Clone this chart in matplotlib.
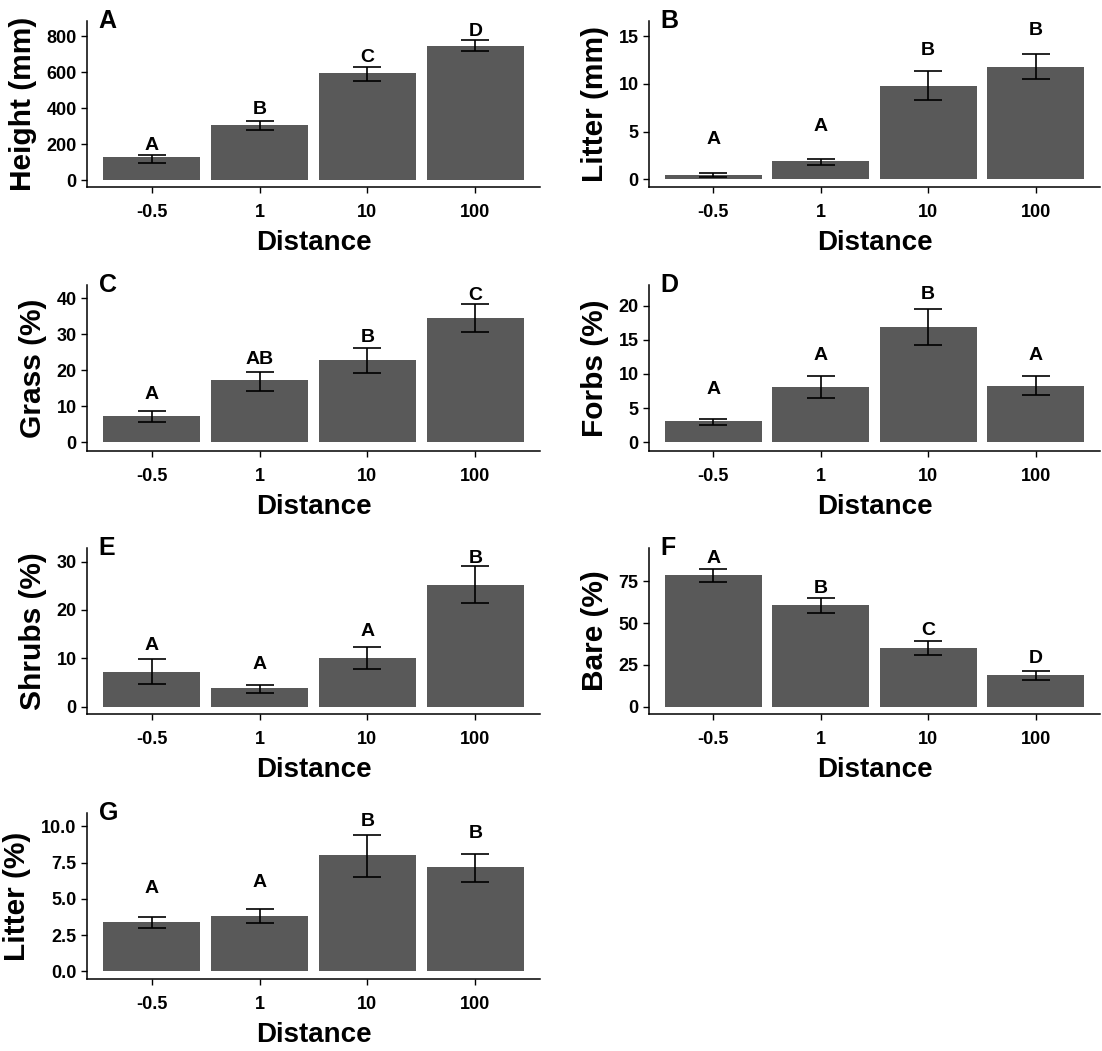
import matplotlib
matplotlib.use("Agg")
import matplotlib.pyplot as plt

plt.rcParams['font.family'] = ['Liberation Sans Narrow', 'Liberation Sans', 'DejaVu Sans']

distance = ['-0.5', '1', '10', '100']

# one entry per panel: means, lower/upper error ends, letters and their heights
panels = ['A', 'B', 'C', 'D', 'E', 'F', 'G']
ylabels = ['Height (mm)', 'Litter (mm)', 'Grass (%)', 'Forbs (%)',
           'Shrubs (%)', 'Bare (%)', 'Litter (%)']

means = [
    [127, 308, 599, 746],
    [0.5, 1.92, 9.82, 11.82],
    [7.2, 17.3, 22.9, 34.4],
    [3.05, 8.04, 16.85, 8.23],
    [7.2, 3.8, 10.0, 25.2],
    [78.6, 60.6, 35.0, 19.2],
    [3.39, 3.82, 8.0, 7.17],
]
err_lo = [
    [97, 280, 554, 718],
    [0.25, 1.5, 8.36, 10.52],
    [5.6, 14.2, 19.1, 30.55],
    [2.57, 6.44, 14.19, 6.88],
    [4.69, 2.83, 7.72, 21.45],
    [74.6, 56.0, 31.2, 16.0],
    [2.97, 3.36, 6.52, 6.13],
]
err_hi = [
    [140, 330, 629, 778],
    [0.66, 2.17, 11.33, 13.18],
    [8.6, 19.5, 26.05, 38.35],
    [3.44, 9.69, 19.56, 9.69],
    [9.86, 4.41, 12.34, 29.1],
    [82.6, 65.0, 39.2, 21.4],
    [3.78, 4.29, 9.4, 8.06],
]
letters = [
    ['A', 'B', 'C', 'D'],
    ['A', 'A', 'B', 'B'],
    ['A', 'AB', 'B', 'C'],
    ['A', 'A', 'B', 'A'],
    ['A', 'A', 'A', 'B'],
    ['A', 'B', 'C', 'D'],
    ['A', 'A', 'B', 'B'],
]
letter_y = [
    [190, 395, 685, 830],
    [4.16, 5.56, 13.53, 15.56],
    [13.1, 23.0, 29.2, 40.8],
    [7.65, 12.74, 21.7, 12.74],
    [12.6, 8.7, 15.5, 30.7],
    [89, 70.6, 45.6, 28.6],
    [5.69, 6.15, 10.3, 9.49],
]
yticks = [
    [0, 200, 400, 600, 800],
    [0, 5, 10, 15],
    [0, 10, 20, 30, 40],
    [0, 5, 10, 15, 20],
    [0, 10, 20, 30],
    [0, 25, 50, 75],
    [0, 2.5, 5, 7.5, 10],
]
ylims = [(-39, 886), (-0.8, 16.6), (-2.5, 43.7), (-1.3, 23.05),
         (-1.5, 32.8), (-4.4, 95), (-0.53, 10.92)]

W, H = 1102, 1051
fig = plt.figure(figsize=(W / 100, H / 100), dpi=100)

col_left = [87, 649]
col_width = [453, 451]
row_top = [21, 285, 548, 813]
ax_h = 166

x = list(range(len(distance)))
for i, p in enumerate(panels):
    r, c = divmod(i, 2)
    left = col_left[c] / W
    bottom = 1 - (row_top[r] + ax_h) / H
    ax = fig.add_axes([left, bottom, col_width[c] / W, ax_h / H])

    ax.bar(x, means[i], width=0.9, color='#595959')
    lo = [m - l for m, l in zip(means[i], err_lo[i])]
    hi = [h - m for m, h in zip(means[i], err_hi[i])]
    ax.errorbar(x, means[i], yerr=[lo, hi], fmt='none', ecolor='black',
                elinewidth=1.2, capsize=10, capthick=1.2)
    for xi, lab, ly in zip(x, letters[i], letter_y[i]):
        ax.text(xi, ly, lab, ha='center', va='center', fontsize=14,
                fontweight='bold')

    ax.set_xlim(-0.6, 3.6)
    ax.set_ylim(*ylims[i])
    ax.set_xticks(x)
    ax.set_xticklabels(distance)
    ax.set_yticks(yticks[i])
    if p == 'G':
        ax.set_yticklabels(['%.1f' % t for t in yticks[i]])
    for sp in ['top', 'right']:
        ax.spines[sp].set_visible(False)
    for sp in ['left', 'bottom']:
        ax.spines[sp].set_linewidth(1.1)
    ax.tick_params(length=4.5, width=1.0, labelsize=13)
    ax.tick_params(axis='x', pad=7.5)
    ax.tick_params(axis='y', pad=3)
    for t in ax.get_xticklabels() + ax.get_yticklabels():
        t.set_fontweight('bold')
    ax.set_xlabel('Distance', fontsize=20, fontweight='bold', labelpad=7,
                  family=['Liberation Sans', 'DejaVu Sans'])
    ax.set_ylabel(ylabels[i], fontsize=21.5, fontweight='bold', labelpad=7,
                  family=['Liberation Sans', 'DejaVu Sans'])
    ax.text(0.026, 1.0, p, transform=ax.transAxes, ha='left', va='center',
            fontsize=18, fontweight='bold',
            family=['Liberation Sans', 'DejaVu Sans'])

fig.savefig('out.png', dpi=100)
